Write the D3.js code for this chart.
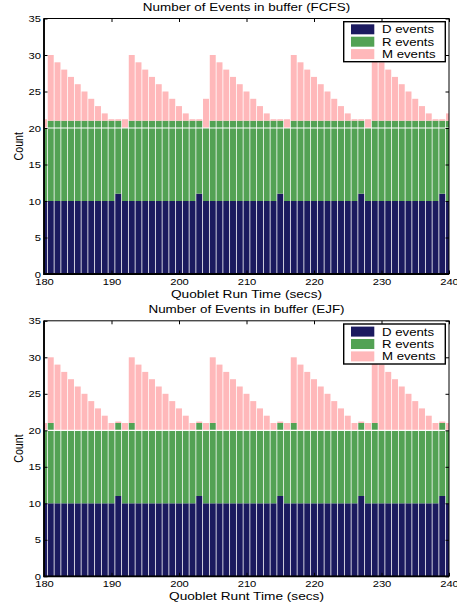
<!DOCTYPE html>
<html>
<head>
<meta charset="utf-8">
<script src="https://cdn.jsdelivr.net/npm/d3@7/dist/d3.min.js"></script>
<style>
  body { margin: 0; background: #fff; }
  text { font-family: "Liberation Sans", Arial, sans-serif; fill: #000; }
</style>
</head>
<body>
<div class="chartHolder"></div>
<script>
// run time (secs), one bar per second
var times = [180, 181, 182, 183, 184, 185, 186, 187, 188, 189, 190, 191, 192, 193, 194, 195,
  196, 197, 198, 199, 200, 201, 202, 203, 204, 205, 206, 207, 208, 209, 210, 211, 212, 213,
  214, 215, 216, 217, 218, 219, 220, 221, 222, 223, 224, 225, 226, 227, 228, 229, 230, 231,
  232, 233, 234, 235, 236, 237, 238, 239, 240];

// FCFS
var fcfsD = [10, 10, 10, 10, 10, 10, 10, 10, 10, 10, 10, 11, 10, 10, 10, 10, 10, 10, 10, 10,
  10, 10, 10, 11, 10, 10, 10, 10, 10, 10, 10, 10, 10, 10, 10, 11, 10, 10, 10, 10, 10, 10, 10,
  10, 10, 10, 10, 11, 10, 10, 10, 10, 10, 10, 10, 10, 10, 10, 10, 11, 10];
var fcfsR = [10, 11, 11, 11, 11, 11, 11, 11, 11, 11, 11, 10, 10, 11, 11, 11, 11, 11, 11, 11,
  11, 11, 11, 10, 10, 11, 11, 11, 11, 11, 11, 11, 11, 11, 11, 10, 10, 11, 11, 11, 11, 11, 11,
  11, 11, 11, 11, 10, 10, 11, 11, 11, 11, 11, 11, 11, 11, 11, 11, 10, 11];
var fcfsM = [1.2, 9, 8, 7, 6, 5, 4, 3, 2, 1, 0.2, 0.2, 1.2, 9, 8, 7, 6, 5, 4, 3, 2, 1, 0.2, 0.2,
  4, 9, 8, 7, 6, 5, 4, 3, 2, 1, 0.2, 0.2, 1.2, 9, 8, 7, 6, 5, 4, 3, 2, 1, 0.2, 0.2, 1.2, 9, 8,
  7, 6, 5, 4, 3, 2, 1, 0.2, 0.2, 1];

// EJF
var ejfD = [10, 10, 10, 10, 10, 10, 10, 10, 10, 10, 10, 11, 10, 10, 10, 10, 10, 10, 10, 10,
  10, 10, 10, 11, 10, 10, 10, 10, 10, 10, 10, 10, 10, 10, 10, 11, 10, 10, 10, 10, 10, 10, 10,
  10, 10, 10, 10, 11, 10, 10, 10, 10, 10, 10, 10, 10, 10, 10, 10, 11, 10];
var ejfR = [10, 11, 10, 10, 10, 10, 10, 10, 10, 10, 10, 10, 10, 11, 10, 10, 10, 10, 10, 10,
  10, 10, 10, 10, 10, 11, 10, 10, 10, 10, 10, 10, 10, 10, 10, 10, 10, 11, 10, 10, 10, 10, 10,
  10, 10, 10, 10, 10, 10, 11, 10, 10, 10, 10, 10, 10, 10, 10, 10, 10, 10];
var ejfM = [1, 9, 9, 8, 7, 6, 5, 4, 3, 2, 1, 0.2, 1, 9, 9, 8, 7, 6, 5, 4, 3, 2, 1, 0.2, 1, 9,
  9, 8, 7, 6, 5, 4, 3, 2, 1, 0.2, 1, 9, 9, 8, 7, 6, 5, 4, 3, 2, 1, 0.2, 1, 9, 9, 8, 7, 6, 5,
  4, 3, 2, 1, 0.2, 1];

var seriesNames = ["D events", "R events", "M events"];
var seriesColors = ["#1b1a5f", "#53a254", "#ffb8ba"];
var xTicks = [180, 190, 200, 210, 220, 230, 240];
var yTicks = [0, 5, 10, 15, 20, 25, 30, 35];
var capacity = 20; // white line across the bars

var width = 457;
var height = 604;
var stretch = 1.18; // the original text is a bit wider than tall

var svg = d3
  .select(".chartHolder")
  .append("svg")
  .attr("width", width)
  .attr("height", height);

function stretchText(sel) {
  sel.each(function () {
    var t = d3.select(this);
    var old = t.attr("transform") || "";
    t.attr("transform", old + " scale(" + stretch + ",1)");
  });
}

function drawPanel(opts) {
  var left = 44, right = 449;
  var xScale = d3.scaleLinear().domain([180, 240]).range([left, right]);
  var yScale = d3.scaleLinear().domain([0, 35]).range([opts.bottom, opts.top]);

  var rows = times.map(function (t, i) {
    return { t: t, D: opts.D[i], R: opts.R[i], M: opts.M[i] };
  });
  var stacked = d3.stack().keys(["D", "R", "M"])(rows);

  var clipId = "clip" + opts.id;
  svg.append("clipPath")
    .attr("id", clipId)
    .append("rect")
    .attr("x", left)
    .attr("y", opts.top)
    .attr("width", right - left)
    .attr("height", opts.bottom - opts.top);

  var g = svg.append("g").attr("clip-path", "url(#" + clipId + ")");
  var step = xScale(1) - xScale(0);
  var gap = 0.8;

  g.selectAll("g.layer")
    .data(stacked)
    .enter()
    .append("g")
    .attr("class", "layer")
    .style("fill", function (d, i) { return seriesColors[i]; })
    .selectAll("rect")
    .data(function (d) { return d; })
    .enter()
    .append("rect")
    .attr("x", function (d) { return xScale(d.data.t - 0.5) + gap / 2; })
    .attr("width", step - gap)
    .attr("y", function (d) { return yScale(d[1]); })
    .attr("height", function (d) { return yScale(d[0]) - yScale(d[1]); });

  g.append("line")
    .attr("x1", left)
    .attr("x2", right)
    .attr("y1", yScale(capacity))
    .attr("y2", yScale(capacity))
    .style("stroke", "#fff")
    .style("stroke-width", 1.2);

  // axes, ticks pointing inward
  var xAxis = svg.append("g")
    .attr("transform", "translate(0," + opts.bottom + ")")
    .call(d3.axisBottom(xScale).tickValues(xTicks).tickSizeInner(-3.5).tickSizeOuter(0).tickPadding(4));
  xAxis.select(".domain").remove();
  xAxis.selectAll("text").style("font-size", "9.5px").call(stretchText);

  svg.append("g")
    .attr("transform", "translate(0," + opts.top + ")")
    .call(d3.axisTop(xScale).tickValues(xTicks).tickSizeInner(-3.5).tickSizeOuter(0).tickFormat(""))
    .select(".domain").remove();

  var yAxis = svg.append("g")
    .attr("transform", "translate(" + left + ",0)")
    .call(d3.axisLeft(yScale).tickValues(yTicks).tickSizeInner(-3.5).tickSizeOuter(0).tickPadding(4));
  yAxis.select(".domain").remove();
  yAxis.selectAll("text").style("font-size", "9.5px").attr("x", -2.5).call(stretchText);

  svg.append("g")
    .attr("transform", "translate(" + right + ",0)")
    .call(d3.axisRight(yScale).tickValues(yTicks).tickSizeInner(-3.5).tickSizeOuter(0).tickFormat(""))
    .select(".domain").remove();

  svg.append("rect")
    .attr("x", left)
    .attr("y", opts.top)
    .attr("width", right - left)
    .attr("height", opts.bottom - opts.top)
    .style("fill", "none")
    .style("stroke", "#000")
    .style("stroke-width", 1);

  svg.append("path")
    .attr("d", "M" + left + "," + opts.top + "V" + opts.bottom + "H" + right)
    .style("fill", "none")
    .style("stroke", "#000")
    .style("stroke-width", 1.8);

  // title and labels
  var cx = (left + right) / 2;
  svg.append("text")
    .attr("transform", "translate(" + cx + "," + (opts.top - 7.8) + ") scale(" + stretch + ",1)")
    .attr("text-anchor", "middle")
    .style("font-size", "11.4px")
    .text(opts.title);

  svg.append("text")
    .attr("transform", "translate(" + cx + "," + (opts.bottom + 23.5) + ") scale(" + stretch + ",1)")
    .attr("text-anchor", "middle")
    .style("font-size", "11.6px")
    .text(opts.xlabel);

  svg.append("text")
    .attr("transform", "translate(22.8," + (opts.top + opts.bottom) / 2 + ") scale(" + stretch + ",1) rotate(-90)")
    .attr("text-anchor", "middle")
    .style("font-size", "10.6px")
    .text("Count");

  // legend
  var lx = 343.7, ly = opts.top + 3.2;
  var legend = svg.append("g").attr("transform", "translate(" + lx + "," + ly + ")");
  legend.append("rect")
    .attr("width", 101.6)
    .attr("height", 40)
    .style("fill", "#fff")
    .style("stroke", "#000")
    .style("stroke-width", 1.4);
  var item = legend.selectAll("g.item")
    .data(seriesNames)
    .enter()
    .append("g")
    .attr("class", "item")
    .attr("transform", function (d, i) { return "translate(0," + (7.6 + i * 12.4) + ")"; });
  item.append("rect")
    .attr("x", 7.3)
    .attr("y", -5)
    .attr("width", 23.3)
    .attr("height", 10)
    .style("fill", function (d, i) { return seriesColors[i]; });
  item.append("text")
    .attr("transform", "translate(38.3,4) scale(" + stretch + ",1)")
    .style("font-size", "11.2px")
    .text(function (d) { return d; });
}

drawPanel({
  id: "fcfs",
  top: 18.5,
  bottom: 274,
  D: fcfsD, R: fcfsR, M: fcfsM,
  title: "Number of Events in buffer (FCFS)",
  xlabel: "Quoblet Run Time (secs)"
});

drawPanel({
  id: "ejf",
  top: 320.8,
  bottom: 576.3,
  D: ejfD, R: ejfR, M: ejfM,
  title: "Number of Events in buffer (EJF)",
  xlabel: "Quoblet Runt Time (secs)"
});
</script>
</body>
</html>
